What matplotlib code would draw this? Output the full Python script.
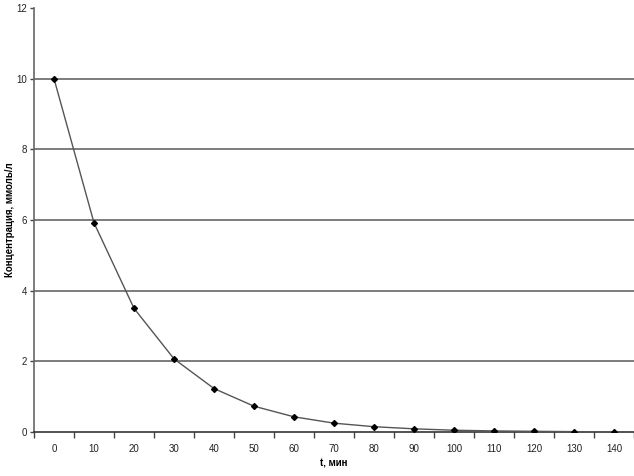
import numpy as np
import matplotlib
matplotlib.use("Agg")
import matplotlib.pyplot as plt

# data
t_labels = ["0", "10", "20", "30", "40", "50", "60", "70", "80", "90",
            "100", "110", "120", "130", "140"]
conc = [10.0, 5.92, 3.50, 2.07, 1.23, 0.73, 0.43, 0.25, 0.15, 0.09,
        0.05, 0.03, 0.02, 0.01, 0.006]
y_ticks = [0, 2, 4, 6, 8, 10, 12]

plt.rcParams['font.family'] = ['Liberation Sans', 'DejaVu Sans']

fig = plt.figure(figsize=(6.34, 4.76), dpi=100)
ax = fig.add_axes([34 / 634, 44 / 476, 600 / 634, 424 / 476])

x = np.arange(len(conc))
ax.plot(x, conc, color="#555555", lw=1.0, marker="D", ms=3,
        mfc="black", mec="black", zorder=3)

# horizontal gridlines
for yv in y_ticks[1:-1]:
    ax.axhline(yv, color="#666666", lw=1.2, zorder=1)

ax.set_xlim(-0.5, len(conc) - 0.5)
ax.set_ylim(0, 12)

ax.set_xticks(np.arange(-0.5, len(conc), 1.0))
ax.set_xticklabels([])
ax.set_xticks(x, minor=True)
ax.set_xticklabels(t_labels, minor=True, fontsize=7, color="#222222")
ax.tick_params(axis="x", which="major", direction="out", length=4,
               width=1, color="#444444")
ax.tick_params(axis="x", which="minor", length=0, pad=9)

ax.set_yticks(y_ticks)
ax.set_yticklabels([str(v) for v in y_ticks], fontsize=7, color="#222222")
ax.tick_params(axis="y", direction="out", length=3, width=1,
               color="#444444", pad=2)

for side in ["top", "right"]:
    ax.spines[side].set_visible(False)
ax.spines["left"].set_color("#666666")
ax.spines["bottom"].set_color("#333333")
ax.spines["left"].set_linewidth(1.2)
ax.spines["bottom"].set_linewidth(1.2)

ax.set_xlabel("t, мин", fontsize=7, fontweight="bold", labelpad=3)
ax.set_ylabel("Концентрация, ммоль/л", fontsize=7, fontweight="bold")
ax.yaxis.set_label_coords(-19 / 600, 0.5)

fig.savefig("out.png", dpi=100)
